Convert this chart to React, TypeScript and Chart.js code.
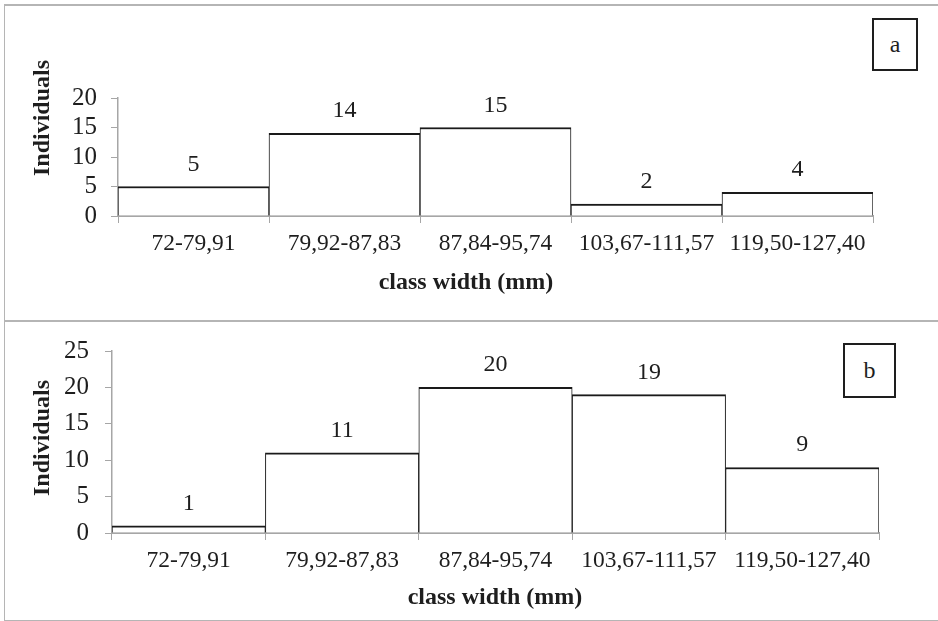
import React, { useEffect, useRef } from 'react';
import { Chart, registerables } from 'chart.js';

Chart.register(...registerables);

const categories = ['72-79,91', '79,92-87,83', '87,84-95,74', '103,67-111,57', '119,50-127,40'];
const valuesA = [5, 14, 15, 2, 4];
const valuesB = [1, 11, 20, 19, 9];
const ticksA = [0, 5, 10, 15, 20];
const ticksB = [0, 5, 10, 15, 20, 25];
const yTitleText = 'Individuals';
const xTitleText = 'class width (mm)';
const panelLabelA = 'a';
const panelLabelB = 'b';

const FONT = '"Liberation Serif", "Times New Roman", Times, serif';
const AXIS_GRAY = '#a6a6a6';
const INK = '#1e1e1e';

const textPlugin = {
  id: 'customText',
  afterDraw(chart: any, _args: any, opts: any) {
    const ctx = chart.ctx;
    const meta = chart.getDatasetMeta(0);
    const data = chart.data.datasets[0].data;
    ctx.save();
    ctx.fillStyle = INK;
    ctx.font = `24px ${FONT}`;
    ctx.textAlign = 'center';
    ctx.textBaseline = 'alphabetic';
    meta.data.forEach((bar: any, i: number) => {
      ctx.fillText(String(data[i]), bar.x, bar.y - 16);
    });
    ctx.font = `bold 24px ${FONT}`;
    ctx.textBaseline = 'middle';
    ctx.fillText(opts.xTitle, opts.xTitleX, opts.xTitleY);
    ctx.translate(opts.yTitleX, opts.yTitleY);
    ctx.rotate(-Math.PI / 2);
    ctx.fillText(opts.yTitle, 0, 0);
    ctx.restore();
  },
};

function makeConfig(values: number[], ticks: number[], g: any) {
  return {
    type: 'bar',
    data: {
      labels: categories,
      datasets: [
        {
          data: values,
          backgroundColor: '#ffffff',
          borderColor: '#1a1a1a',
          borderWidth: { top: 2, left: 1, right: 1, bottom: 0 },
          borderSkipped: 'start',
          barPercentage: 1,
          categoryPercentage: 1,
        },
      ],
    },
    options: {
      responsive: false,
      maintainAspectRatio: false,
      animation: false,
      devicePixelRatio: 1,
      layout: { padding: { left: 0, top: g.top, right: g.right, bottom: 0 } },
      plugins: {
        legend: { display: false },
        tooltip: { enabled: false },
        customText: {
          xTitle: xTitleText,
          yTitle: yTitleText,
          xTitleX: g.xTitleX,
          xTitleY: g.xTitleY,
          yTitleX: g.yTitleX,
          yTitleY: g.yTitleY,
        },
      },
      scales: {
        x: {
          z: 1,
          grid: {
            drawOnChartArea: false,
            drawTicks: true,
            tickLength: 7,
            color: AXIS_GRAY,
            lineWidth: 1,
          },
          border: { color: AXIS_GRAY, width: 2 },
          ticks: {
            color: INK,
            font: { family: FONT, size: 23.5 },
            padding: 7,
            maxRotation: 0,
            minRotation: 0,
            autoSkip: false,
          },
          afterFit: (s: any) => {
            s.height = g.xHeight;
          },
        },
        y: {
          z: 1,
          min: 0,
          max: ticks[ticks.length - 1],
          afterBuildTicks: (s: any) => {
            s.ticks = ticks.map((v) => ({ value: v }));
          },
          grid: {
            drawOnChartArea: false,
            drawTicks: true,
            tickLength: 7,
            color: AXIS_GRAY,
            lineWidth: 1,
          },
          border: { color: AXIS_GRAY, width: 1.5 },
          ticks: {
            color: INK,
            font: { family: FONT, size: 25 },
            padding: g.yPad,
            autoSkip: false,
          },
          afterFit: (s: any) => {
            s.width = g.yWidth;
          },
        },
      },
    },
    plugins: [textPlugin],
  } as any;
}

const labelBox = (left: number, top: number, w: number, h: number, text: string) => (
  <div
    style={{
      position: 'absolute',
      left,
      top,
      width: w,
      height: h,
      boxSizing: 'border-box',
      border: `2px solid ${INK}`,
      display: 'flex',
      alignItems: 'center',
      justifyContent: 'center',
      fontFamily: FONT,
      fontSize: 24,
      color: INK,
      background: '#fff',
    }}
  >
    {text}
  </div>
);

export default function App() {
  const refA = useRef<HTMLCanvasElement>(null);
  const refB = useRef<HTMLCanvasElement>(null);

  useEffect(() => {
    const a = new Chart(
      refA.current as HTMLCanvasElement,
      makeConfig(valuesA, ticksA, {
        top: 98,
        right: 65,
        xHeight: 104,
        yWidth: 118,
        yPad: 14,
        xTitleX: 466,
        xTitleY: 283,
        yTitleX: 43,
        yTitleY: 118,
      })
    );
    const b = new Chart(
      refB.current as HTMLCanvasElement,
      makeConfig(valuesB, ticksB, {
        top: 19,
        right: 59,
        xHeight: 88,
        yWidth: 112,
        yPad: 16,
        xTitleX: 495,
        xTitleY: 278,
        yTitleX: 43,
        yTitleY: 118,
      })
    );
    return () => {
      a.destroy();
      b.destroy();
    };
  }, []);

  const line = (style: React.CSSProperties) => (
    <div style={{ position: 'absolute', background: '#b5b5b5', ...style }} />
  );

  return (
    <div
      style={{
        position: 'absolute',
        left: 0,
        top: 0,
        width: 938,
        height: 621,
        background: '#ffffff',
        overflow: 'hidden',
      }}
    >
      <canvas
        ref={refA}
        width={938}
        height={320}
        style={{ position: 'absolute', left: 0, top: 0, width: 938, height: 320, display: 'block' }}
      />
      <canvas
        ref={refB}
        width={938}
        height={301}
        style={{ position: 'absolute', left: 0, top: 320, width: 938, height: 301, display: 'block' }}
      />
      {line({ left: 4, top: 4, width: 934, height: 1.5 })}
      {line({ left: 3.5, top: 4, width: 1.5, height: 617 })}
      {line({ left: 4, top: 320, width: 934, height: 1.5 })}
      {line({ left: 4, top: 619.5, width: 934, height: 1.5 })}
      {labelBox(872, 18, 46, 53, panelLabelA)}
      {labelBox(843, 343, 53, 55, panelLabelB)}
    </div>
  );
}
